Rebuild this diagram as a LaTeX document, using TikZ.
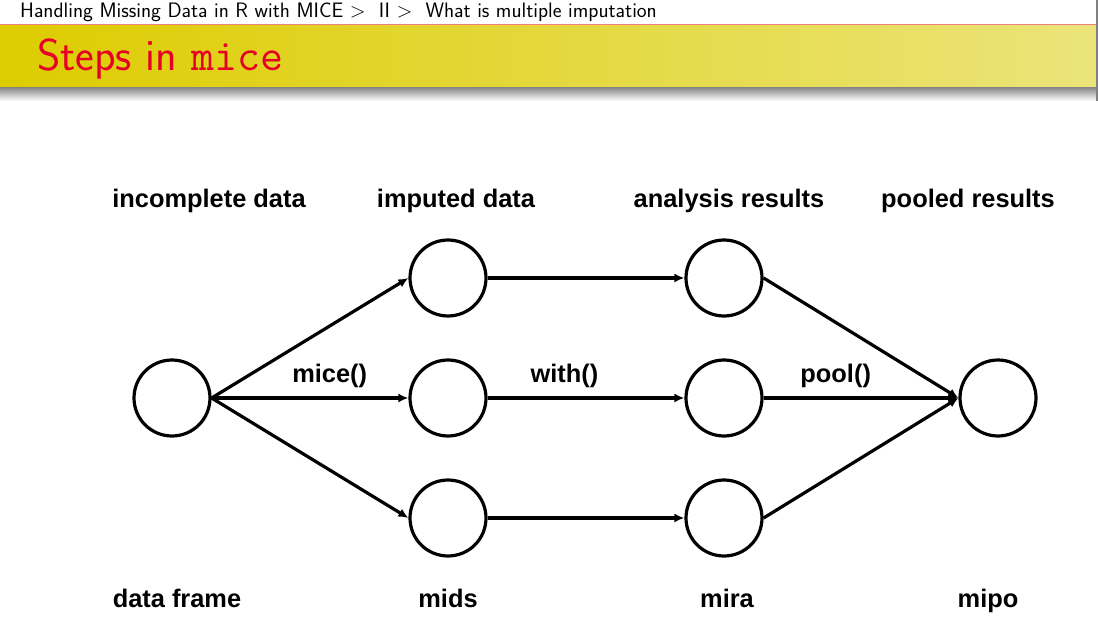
\documentclass[tikz,border=0pt]{standalone}
\usepackage{fontspec}
\newfontfamily\arialFont{Liberation Sans}
\usetikzlibrary{arrows.meta}
\definecolor{barDark}{RGB}{221,204,0}
\definecolor{barLight}{RGB}{235,228,122}
\definecolor{ruleRed}{RGB}{240,128,128}
\definecolor{titleRed}{RGB}{230,0,40}
\tikzset{
  stepNode/.style={circle, draw=black, line width=3.2pt, minimum size=76pt, inner sep=0pt},
  stepArrow/.style={line width=3.2pt, -{Latex[length=10pt,width=9pt]}},
  stepLabel/.style={font=\arialFont\bfseries\fontsize{25.4}{28}\selectfont, text height=0.72em, text depth=0.2em},
}
\begin{document}
\begin{tikzpicture}[x=1pt,y=-1pt]
  \useasboundingbox (0,0) rectangle (1098,634);
  % slide header
  \node[anchor=west, font=\sffamily\fontsize{20.9}{24}\selectfont, inner sep=0pt] (headline) at (20,12)
    {Handling Missing Data in R with MICE $>$\ \ II $>$\ \ What is multiple imputation};
  \shade[left color=barDark, right color=barLight] (0,25) rectangle (1096,88);
  \shade[top color=black!45, bottom color=white] (0,88) rectangle (1096,101);
  \draw[ruleRed, line width=1.5pt] (0,24.5) -- (1096,24.5);
  \draw[black!50, line width=1.5pt] (1097,0) -- (1097,101);
  \node[anchor=west, font=\sffamily\fontsize{44.6}{50}\selectfont, text=titleRed, inner sep=0pt] (frameTitle) at (37,59)
    {Steps in \texttt{mice}};

  % circles
  \node[stepNode] (dataFrame) at (172,398) {};
  \node[stepNode] (impTop) at (448,278) {};
  \node[stepNode] (impMid) at (448,398) {};
  \node[stepNode] (impBot) at (448,518) {};
  \node[stepNode] (anaTop) at (724,278) {};
  \node[stepNode] (anaMid) at (724,398) {};
  \node[stepNode] (anaBot) at (724,518) {};
  \node[stepNode] (pooled) at (998,398) {};

  % connectors
  \draw[stepArrow] (dataFrame.east) -- (impTop.west);
  \draw[stepArrow] (dataFrame.east) -- node[stepLabel, pos=0.6, above=9pt] (miceLabel) {mice()} (impMid.west);
  \draw[stepArrow] (dataFrame.east) -- (impBot.west);
  \draw[stepArrow] (impTop.east) -- (anaTop.west);
  \draw[stepArrow] (impMid.east) -- node[stepLabel, pos=0.39, above=9pt] (withLabel) {with()} (anaMid.west);
  \draw[stepArrow] (impBot.east) -- (anaBot.west);
  \draw[stepArrow] (anaTop.east) -- (pooled.west);
  \draw[stepArrow] (anaMid.east) -- node[stepLabel, pos=0.37, above=9pt] (poolLabel) {pool()} (pooled.west);
  \draw[stepArrow] (anaBot.east) -- (pooled.west);

  % column labels
  \node[stepLabel] (incLabel) at (209,205) {incomplete data};
  \node[stepLabel] (impLabel) at (456,205) {imputed data};
  \node[stepLabel] (anaLabel) at (729,205) {analysis results};
  \node[stepLabel] (polLabel) at (968,205) {pooled results};
  \node[stepLabel] (dfLabel) at (177,605) {data frame};
  \node[stepLabel] (midsLabel) at (448,605) {mids};
  \node[stepLabel] (miraLabel) at (727,605) {mira};
  \node[stepLabel] (mipoLabel) at (988,605) {mipo};
\end{tikzpicture}
\end{document}
